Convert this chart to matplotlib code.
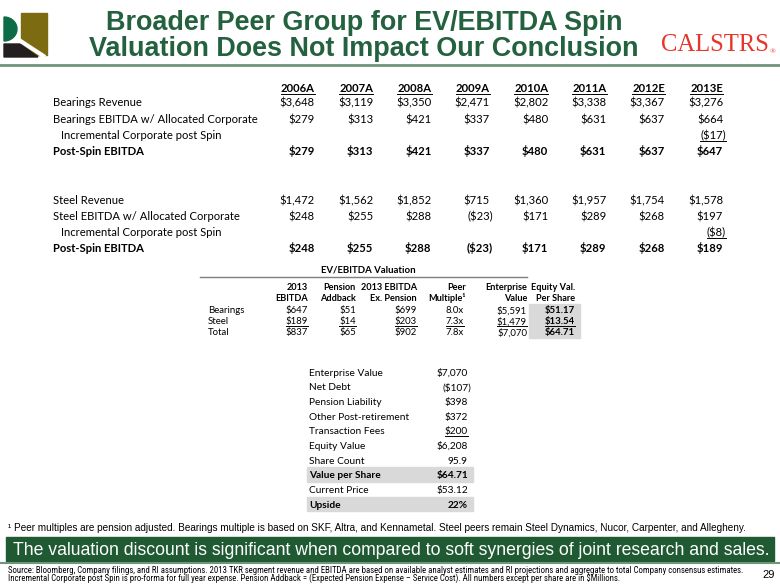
import matplotlib
matplotlib.use('Agg')
import numpy as np
import matplotlib.pyplot as plt
from matplotlib.patches import Rectangle, Polygon
from matplotlib import font_manager as fm

# ---------------- data ----------------
years = ['2006A', '2007A', '2008A', '2009A', '2010A', '2011A', '2012E', '2013E']
bearings_revenue = [3648, 3119, 3350, 2471, 2802, 3338, 3367, 3276]
bearings_ebitda = [279, 313, 421, 337, 480, 631, 637, 664]
bearings_incremental = [None, None, None, None, None, None, None, -17]
bearings_post_spin = [279, 313, 421, 337, 480, 631, 637, 647]
steel_revenue = [1472, 1562, 1852, 715, 1360, 1957, 1754, 1578]
steel_ebitda = [248, 255, 288, -23, 171, 289, 268, 197]
steel_incremental = [None, None, None, None, None, None, None, -8]
steel_post_spin = [248, 255, 288, -23, 171, 289, 268, 189]

val_segments = ['Bearings', 'Steel', 'Total']
val_header1 = ['2013', 'Pension', '2013 EBITDA', 'Peer', 'Enterprise', 'Equity Val.']
val_header2 = ['EBITDA', 'Addback', 'Ex. Pension', 'Multiple\u00b9', 'Value', 'Per Share']
ebitda_2013 = [647, 189, 837]
pension_addback = [51, 14, 65]
ebitda_ex_pension = [699, 203, 902]
peer_multiple = [8.0, 7.3, 7.8]
enterprise_value = [5591, 1479, 7070]
equity_per_share = [51.17, 13.54, 64.71]

bridge_labels = ['Enterprise Value', 'Net Debt', 'Pension Liability', 'Other Post-retirement',
                 'Transaction Fees', 'Equity Value', 'Share Count', 'Value per Share',
                 'Current Price', 'Upside']
bridge_values = [7070, -107, 398, 372, 200, 6208, 95.9, 64.71, 53.12, 0.22]
bridge_kinds = ['m', 'm', 'm', 'm', 'm', 'm', 'n', 'p', 'p', 'pct']

title_lines = ['Broader Peer Group for EV/EBITDA Spin', 'Valuation Does Not Impact Our Conclusion']
footnote = '\u00b9 Peer multiples are pension adjusted. Bearings multiple is based on SKF, Altra, and Kennametal. Steel peers remain Steel Dynamics, Nucor, Carpenter, and Allegheny.'
banner = 'The valuation discount is significant when compared to soft synergies of joint research and sales.'
source_lines = ['Source: Bloomberg, Company filings, and RI assumptions. 2013 TKR segment revenue and EBITDA are based on available analyst estimates and RI projections and aggregate to total Company consensus estimates.',
                'Incremental Corporate post Spin is pro-forma for full year expense. Pension Addback = (Expected Pension Expense \u2013 Service Cost). All numbers except per share are in $Millions.']
page_number = '29'


def has_font(name):
    try:
        fm.findfont(fm.FontProperties(family=name), fallback_to_default=False)
        return True
    except Exception:
        return False


def find_condensed():
    cond = ('condensed', 'semi-condensed', 'extra-condensed', 'ultra-condensed')
    found = []
    for f in fm.fontManager.ttflist:
        st = f.stretch
        is_c = ('Narrow' in f.name or 'Condensed' in f.name or
                (isinstance(st, str) and st in cond) or
                (isinstance(st, (int, float)) and st < 500))
        if is_c:
            found.append((f.name, st))
    prefs = ['Liberation Sans Narrow', 'Arial Narrow', 'Roboto Condensed', 'DejaVu Sans',
             'Open Sans Condensed', 'Open Sans', 'Noto Sans', 'Roboto']
    for p in prefs:
        for n, st in found:
            if n == p:
                return n, st
    if found:
        return found[0]
    return 'Liberation Sans', 'normal'


NARROW, NSTRETCH = find_condensed()
ARIAL = 'Liberation Sans'
BODY = 'Lato' if has_font('Lato') else 'DejaVu Sans'
SERIF = 'Liberation Serif'

fig = plt.figure(figsize=(7.8, 5.85), dpi=100)
ax = fig.add_axes([0, 0, 1, 1])
ax.set_xlim(0, 780)
ax.set_ylim(585, 0)
ax.axis('off')
R = fig.canvas.get_renderer()


def props(family):
    if family == NARROW and NSTRETCH != 'normal':
        return dict(family=NARROW, stretch=NSTRETCH)
    return dict(family=family)


def width_of(s, size, weight='normal', family=BODY):
    t = ax.text(0, 0, s, fontsize=size, fontweight=weight, **props(family))
    w = t.get_window_extent(R).width
    t.remove()
    return w


def fit(s, target, weight='normal', family=BODY):
    return 10 * target / width_of(s, 10, weight, family)


underlined = []


def put(x, y, s, size, ha='right', weight='normal', underline=False, color='black', family=BODY, z=3):
    em = size * 100 / 72.0
    t = ax.text(x, y + 0.36 * em, s, fontsize=size, fontweight=weight, ha=ha, va='baseline',
                color=color, zorder=z, **props(family))
    if underline:
        underlined.append((t, y + 0.36 * em + 0.16 * em))
    return t


def money(v):
    if v is None:
        return ''
    if v < 0:
        return '(${:,})'.format(-v)
    return '${:,}'.format(v)


GREEN = '#24613F'

# ---------------- header ----------------
ax.add_patch(Rectangle((21, 13), 26, 42, color='#7D6B12', zorder=2))
th = np.linspace(-np.pi / 2, np.pi / 2, 30)
gx = list(4 + 13 * np.cos(th)) + [4]
gy = list(29 + 12 * np.sin(th)) + [17]
ax.add_patch(Polygon(list(zip(gx, gy)), closed=True, color='#0E6B47', zorder=3))
ax.add_patch(Polygon([(4, 44), (20, 44), (38, 57), (4, 57)], closed=True, color='#231F20', zorder=3))
ax.plot([19, 45], [40, 57], color='white', lw=3, zorder=4, solid_capstyle='butt')

tsize = fit(title_lines[1], 548, 'bold', ARIAL)
put(364, 20, title_lines[0], tsize, ha='center', weight='bold', color=GREEN, family=ARIAL)
put(364, 46, title_lines[1], tsize, ha='center', weight='bold', color=GREEN, family=ARIAL)

csize = fit('CALSTRS', 108, 'normal', SERIF)
put(661, 42, 'CALSTRS', csize, ha='left', color='#E8352B', family=SERIF)
put(770, 51, '\u00ae', csize * 0.3, ha='left', color='#E8352B', family=SERIF)

ax.plot([0, 780], [64.5, 64.5], color='#6F957B', lw=2, zorder=2)

# ---------------- top table ----------------
top_size = fit('Bearings Revenue', 89)
col_right = [315 + i * 58.3 for i in range(len(years))]
for x, yr in zip(col_right, years):
    put(x, 88, yr, top_size, weight='bold', underline=True)

top_rows = [
    ('Bearings Revenue', bearings_revenue, 102, False, False, False),
    ('Bearings EBITDA w/ Allocated Corporate', bearings_ebitda, 119, False, False, False),
    ('Incremental Corporate post Spin', bearings_incremental, 135, False, True, True),
    ('Post-Spin EBITDA', bearings_post_spin, 151, True, False, False),
    ('Steel Revenue', steel_revenue, 200, False, False, False),
    ('Steel EBITDA w/ Allocated Corporate', steel_ebitda, 216, False, False, False),
    ('Incremental Corporate post Spin', steel_incremental, 232, False, True, True),
    ('Post-Spin EBITDA', steel_post_spin, 248, True, False, False),
]
for label, vals, y, bold, indent, ul in top_rows:
    w = 'bold' if bold else 'normal'
    put(61 if indent else 53, y, label, top_size, ha='left', weight=w)
    for x, v in zip(col_right, vals):
        if v is None:
            continue
        put(x + (3 if v < 0 else 0), y, money(v), top_size, weight=w, underline=ul)

# ---------------- valuation table ----------------
mid_size = fit('Bearings', 36.5)
head_size = mid_size * 0.95
mid_right = [308, 356, 417, 466, 527, 575]
put(368, 269, 'EV/EBITDA Valuation', mid_size, ha='center', weight='bold')
ax.plot([200, 527], [276.5, 276.5], color='#7F7F7F', lw=1, zorder=2)
ax.add_patch(Rectangle((529, 304), 51, 34, color='#D9D9D9', zorder=1))
for x, h1, h2 in zip(mid_right, val_header1, val_header2):
    put(x, 287, h1, head_size, weight='bold')
    put(x, 298, h2, head_size, weight='bold')
row_y = [310, 321, 332]
for i, seg in enumerate(val_segments):
    y = row_y[i]
    ul = (seg == 'Steel')
    put(208, y, seg, mid_size, ha='left')
    cells = [money(ebitda_2013[i]), money(pension_addback[i]), money(ebitda_ex_pension[i]),
             '{:.1f}x'.format(peer_multiple[i]), money(enterprise_value[i]),
             '${:.2f}'.format(equity_per_share[i])]
    for j, (x, s) in enumerate(zip(mid_right, cells)):
        put(x - (2 if j == 3 else 0), y, s, mid_size, weight='bold' if j == 5 else 'normal', underline=ul)

# ---------------- bridge ----------------
bot_size = fit('Other Post-retirement', 100)
for i, (lab, v, k) in enumerate(zip(bridge_labels, bridge_values, bridge_kinds)):
    y = 372 + i * 14.67
    bold = lab in ('Value per Share', 'Upside')
    w = 'bold' if bold else 'normal'
    if bold:
        ax.add_patch(Rectangle((307, y - 7.2), 166, 14.4, color='#D9D9D9', zorder=1))
    if k == 'm':
        s = money(v)
    elif k == 'n':
        s = '{:.1f}'.format(v)
    elif k == 'p':
        s = '${:.2f}'.format(v)
    else:
        s = '{:.0f}%'.format(v * 100)
    put(309, y, lab, bot_size, ha='left', weight=w)
    put(468 + (3 if (k == 'm' and v < 0) else 0), y, s, bot_size, weight=w,
        underline=(lab == 'Transaction Fees'))

# ---------------- footer ----------------
fsize = fit(footnote, 744, 'normal', ARIAL)
put(8, 527, footnote, fsize, ha='left', family=ARIAL)

ax.add_patch(Rectangle((6, 537), 768, 24, color='#1F5A33', zorder=1))
bsize = fit(banner, 759, 'normal', ARIAL)
put(391, 548.5, banner, bsize, ha='center', color='white', family=ARIAL)

ax.plot([0, 780], [563, 563], color='#6F957B', lw=1.5, zorder=2)
ssize = fit(source_lines[0], 734, 'normal', NARROW)
put(8, 570, source_lines[0], ssize, ha='left', family=NARROW)
put(8, 579, source_lines[1], ssize, ha='left', family=NARROW)
put(769, 574, page_number, 8, ha='center', family=ARIAL)

for t, yu in underlined:
    bb = t.get_window_extent(R)
    ax.plot([bb.x0, bb.x1], [yu, yu], color='black', lw=0.7, zorder=3)

fig.savefig('out.png', dpi=100)
